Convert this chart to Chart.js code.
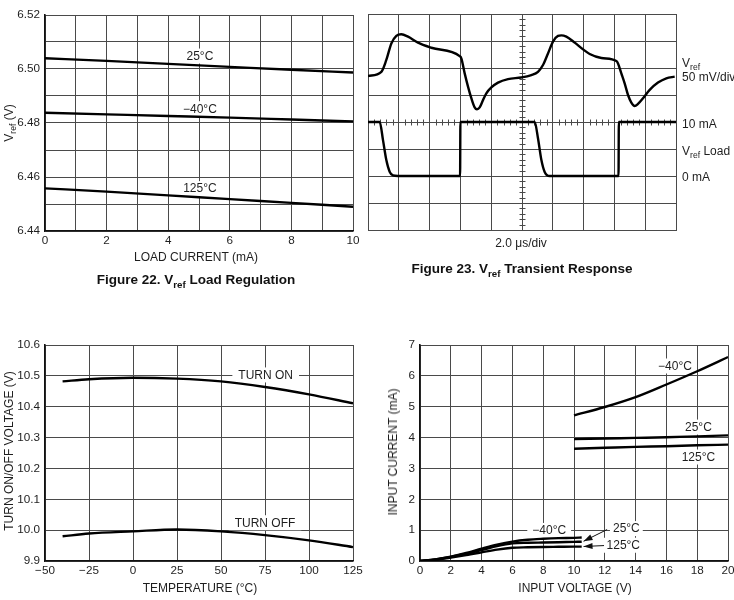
<!DOCTYPE html>
<html><head><meta charset="utf-8">
<script src="https://cdn.jsdelivr.net/npm/chart.js@4/dist/chart.umd.min.js"></script>
<style>
html,body{margin:0;padding:0;background:#fff;}
body{width:734px;height:600px;overflow:hidden;position:relative;font-family:"Liberation Sans",Arial,sans-serif;color:#1e1e1e;}
canvas{position:absolute;}
.t{position:absolute;transform:translate(-50%,-50%);white-space:nowrap;font-size:12px;line-height:1;}
.r{transform:translate(-50%,-50%) rotate(-90deg);}
.fig{font-weight:bold;font-size:13.5px;color:#111;}
sub{font-size:72%;vertical-align:-0.35em;line-height:0;}
.l{position:absolute;white-space:nowrap;font-size:12px;line-height:1;transform:translateY(-50%);}
</style></head><body>
<canvas id="c1" width="367" height="300" style="left:0;top:0"></canvas>
<canvas id="c2" width="367" height="300" style="left:367px;top:0"></canvas>
<canvas id="c3" width="367" height="270" style="left:0;top:330px"></canvas>
<canvas id="c4" width="380" height="270" style="left:367px;top:330px"></canvas>

<div class="t r" style="left:9px;top:123px">V<sub>ref</sub> (V)</div>
<div class="t" style="left:196px;top:257px">LOAD CURRENT (mA)</div>
<div class="t fig" style="left:196px;top:280px">Figure 22. V<sub>ref</sub> Load Regulation</div>

<div class="t" style="left:521px;top:243px">2.0 μs/div</div>
<div class="t fig" style="left:522px;top:269px">Figure 23. V<sub>ref</sub> Transient Response</div>
<div class="l" style="left:682px;top:63px">V<sub>ref</sub></div>
<div class="l" style="left:682px;top:77px">50 mV/div</div>
<div class="l" style="left:682px;top:124px">10 mA</div>
<div class="l" style="left:682px;top:151px">V<sub>ref</sub> Load</div>
<div class="l" style="left:682px;top:177px">0 mA</div>

<div class="t r" style="left:9px;top:451px">TURN ON/OFF VOLTAGE (V)</div>
<div class="t" style="left:200px;top:588px">TEMPERATURE (°C)</div>

<div class="t r" style="left:393px;top:452px">INPUT CURRENT (mA)</div>
<div class="t" style="left:575px;top:588px">INPUT VOLTAGE (V)</div>

<script>
// ---------- Figure 22: Vref load regulation ----------
const loadCurrent = [0, 2, 4, 6, 8, 10];
const vref25  = [6.5040, 6.5030, 6.5019, 6.5008, 6.4997, 6.4987];
const vrefM40 = [6.4838, 6.4832, 6.4826, 6.4820, 6.4813, 6.4806];
const vref125 = [6.4558, 6.4546, 6.4532, 6.4518, 6.4504, 6.4490];
const fig22XTicks = ['0', '2', '4', '6', '8', '10'];
const fig22YTicks = ['6.44', '6.46', '6.48', '6.50', '6.52'];

// ---------- Figure 23: transient response (scope divisions) ----------
const vrefTime = [0,0.433,0.595,0.758,0.920,1.082,1.299,1.623,2.056,2.976,3.030,3.139,3.247,3.355,3.463,3.539,3.626,3.734,3.842,4.004,4.221,4.545,4.978,5.303,5.519,5.682,5.844,6.006,6.169,6.277,6.439,6.710,6.981,7.197,7.576,8.063,8.117,8.225,8.333,8.442,8.550,8.658,8.766,8.929,9.145,9.416,9.686,9.957];
const vrefTrace = [5.70,5.86,6.30,6.91,7.19,7.25,7.16,6.94,6.75,6.44,6.36,5.80,5.31,4.88,4.54,4.47,4.54,4.81,5.06,5.28,5.46,5.59,5.65,5.74,5.86,6.11,6.54,6.98,7.19,7.21,7.16,6.94,6.69,6.52,6.37,6.26,6.17,5.80,5.43,5.00,4.72,4.59,4.67,4.88,5.19,5.46,5.62,5.68];
const loadTime  = [0,0.379,0.487,0.595,0.703,0.812,0.974,2.990,3.000,5.411,5.519,5.628,5.736,5.898,8.134,8.144,10];
const loadTrace = [4,4,3.33,2.59,2.16,2.02,2,2,4,4,3.4,2.6,2.15,2,2,4,4];

// ---------- Figure 24: turn on/off voltage vs temperature ----------
const temperature = [-40, -25, 0, 25, 50, 75, 100, 125];
const turnOn  = [10.482, 10.489, 10.494, 10.491, 10.482, 10.464, 10.440, 10.411];
const turnOff = [9.980, 9.989, 9.996, 10.002, 9.996, 9.984, 9.967, 9.945];
const fig24XTicks = ['−50', '−25', '0', '25', '50', '75', '100', '125'];
const fig24YTicks = ['9.9', '10.0', '10.1', '10.2', '10.3', '10.4', '10.5', '10.6'];

// ---------- Figure 25: input current vs input voltage ----------
const vinLow   = [0, 1, 2, 3, 4, 5, 6, 7, 8, 9, 10, 10.5];
const iLowM40  = [0, 0.05, 0.14, 0.26, 0.40, 0.53, 0.63, 0.69, 0.72, 0.74, 0.75, 0.76];
const iLow25   = [0, 0.05, 0.13, 0.24, 0.35, 0.48, 0.57, 0.59, 0.60, 0.61, 0.62, 0.625];
const iLow125  = [0, 0.04, 0.11, 0.19, 0.28, 0.37, 0.43, 0.445, 0.455, 0.46, 0.465, 0.466];
const vinHigh  = [10, 12, 14, 16, 18, 20];
const iHighM40 = [4.72, 4.99, 5.31, 5.72, 6.15, 6.61];
const iHigh25  = [3.95, 3.97, 3.99, 4.01, 4.04, 4.07];
const iHigh125 = [3.64, 3.67, 3.70, 3.72, 3.75, 3.77];
const fig25XTicks = ['0','2','4','6','8','10','12','14','16','18','20'];
const fig25YTicks = ['0','1','2','3','4','5','6','7'];

// ---------- rendering ----------
Chart.defaults.font.family = '"Liberation Sans", Arial, sans-serif';
Chart.defaults.font.size = 11.7;
Chart.defaults.color = '#1e1e1e';
Chart.defaults.animation = false;
Chart.defaults.responsive = false;
Chart.defaults.devicePixelRatio = 1;

const GRID = '#4a4a4a';
const AXIS = '#111';
const TAGFONT = '12px "Liberation Sans", Arial, sans-serif';

function series(xs, ys, extra) {
  return Object.assign({
    data: xs.map((v, i) => ({x: v, y: ys[i]})),
    borderColor: '#000', borderWidth: 2.4, pointRadius: 0, fill: false,
    cubicInterpolationMode: 'monotone'
  }, extra || {});
}

const tagPlugin = {
  id: 'tags',
  beforeDatasetsDraw(chart, args, opts) {
    const {ctx, scales: {x, y}} = chart;
    ctx.save();
    ctx.font = TAGFONT;
    (opts.items || []).forEach(it => {
      const w = ctx.measureText(it.text).width;
      const px = x.getPixelForValue(it.x), py = y.getPixelForValue(it.y);
      const pad = it.pad == null ? 5 : it.pad;
      ctx.fillStyle = '#fff';
      ctx.fillRect(px - w / 2 - pad, py - 7.5, w + 2 * pad, 15);
    });
    ctx.restore();
  },
  afterDatasetsDraw(chart, args, opts) {
    const {ctx, scales: {x, y}} = chart;
    ctx.save();
    ctx.font = TAGFONT;
    ctx.fillStyle = '#1e1e1e';
    ctx.textAlign = 'center';
    ctx.textBaseline = 'middle';
    (opts.items || []).forEach(it => {
      ctx.fillText(it.text, x.getPixelForValue(it.x), y.getPixelForValue(it.y) + 0.5);
    });
    (opts.arrows || []).forEach(a => {
      const x0 = x.getPixelForValue(a.from[0]), y0 = y.getPixelForValue(a.from[1]);
      const x1 = x.getPixelForValue(a.to[0]), y1 = y.getPixelForValue(a.to[1]);
      const ang = Math.atan2(y1 - y0, x1 - x0);
      ctx.strokeStyle = '#111'; ctx.lineWidth = 1;
      ctx.beginPath(); ctx.moveTo(x0, y0); ctx.lineTo(x1, y1); ctx.stroke();
      ctx.fillStyle = '#111';
      ctx.beginPath();
      ctx.moveTo(x1, y1);
      ctx.lineTo(x1 - 9 * Math.cos(ang) + 3 * Math.sin(ang), y1 - 9 * Math.sin(ang) - 3 * Math.cos(ang));
      ctx.lineTo(x1 - 9 * Math.cos(ang) - 3 * Math.sin(ang), y1 - 9 * Math.sin(ang) + 3 * Math.cos(ang));
      ctx.closePath(); ctx.fill();
    });
    ctx.restore();
  }
};

const scopePlugin = {
  id: 'scope',
  beforeDatasetsDraw(chart, args, opts) {
    if (!opts.on) return;
    const {ctx, scales: {x, y}} = chart;
    const cx = Math.round(x.getPixelForValue(5)) + 0.5;
    const cy = Math.round(y.getPixelForValue(4)) + 0.5;
    ctx.save();
    ctx.strokeStyle = GRID; ctx.lineWidth = 1;
    ctx.beginPath();
    for (let i = 1; i < 50; i++) {
      if (i % 5 === 0) continue;
      const px = Math.round(x.getPixelForValue(i * 0.2)) + 0.5;
      ctx.moveTo(px, cy - 3); ctx.lineTo(px, cy + 3);
    }
    for (let i = 1; i < 40; i++) {
      if (i % 5 === 0) continue;
      const py = Math.round(y.getPixelForValue(i * 0.2)) + 0.5;
      ctx.moveTo(cx - 3, py); ctx.lineTo(cx + 3, py);
    }
    ctx.stroke();
    ctx.restore();
  }
};

function xAxis(min, max, step, labels, height, show) {
  return {
    type: 'linear', min, max,
    ticks: {display: show, stepSize: step, autoSkip: false, maxRotation: 0, padding: 3,
      callback: v => { const i = labels.findIndex(l => parseFloat(l.replace('−', '-')) === Math.round(v * 1000) / 1000); return i >= 0 ? labels[i] : ''; }},
    grid: {color: GRID, lineWidth: 1, drawTicks: false},
    border: {color: show ? AXIS : GRID, width: show ? 1.6 : 1},
    afterFit: s => { s.height = height; }
  };
}
function yAxis(min, max, step, labels, width, show) {
  return {
    type: 'linear', min, max,
    ticks: {display: show, stepSize: step, autoSkip: false, padding: 5,
      callback: v => { const i = labels.findIndex(l => Math.abs(parseFloat(l) - v) < step / 10); return i >= 0 ? labels[i] : ''; }},
    grid: {color: GRID, lineWidth: 1, drawTicks: false},
    border: {color: show ? AXIS : GRID, width: show ? 1.6 : 1},
    afterFit: s => { s.width = width; }
  };
}
function baseOpts(pad, scales, tags) {
  return {
    layout: {padding: pad},
    plugins: {legend: {display: false}, tooltip: {enabled: false}, tags: tags || {}, scope: {}},
    scales
  };
}

// Figure 22
new Chart(document.getElementById('c1'), {
  type: 'line',
  data: {datasets: [series(loadCurrent, vref25), series(loadCurrent, vrefM40), series(loadCurrent, vref125)]},
  options: baseOpts({left: 0, top: 15, right: 14, bottom: 0}, {
    x: xAxis(0, 10, 1, fig22XTicks, 69, true),
    y: yAxis(6.44, 6.52, 0.01, fig22YTicks, 45, true)
  }, {items: [
    {text: '25°C', x: 5.03, y: 6.5048},
    {text: '−40°C', x: 5.03, y: 6.4853},
    {text: '125°C', x: 5.03, y: 6.4557}
  ]}),
  plugins: [tagPlugin]
});

// Figure 23
const opt23 = baseOpts({left: 1, top: 14, right: 58, bottom: 70}, {
  x: xAxis(0, 10, 1, [], 0, false),
  y: yAxis(0, 8, 1, [], 0, false)
});
opt23.plugins.scope = {on: true};
opt23.plugins.tags = {};
new Chart(document.getElementById('c2'), {
  type: 'line',
  data: {datasets: [series(vrefTime, vrefTrace, {borderWidth: 2.4}), series(loadTime, loadTrace, {borderWidth: 2.4})]},
  options: opt23,
  plugins: [scopePlugin]
});

// Figure 24
new Chart(document.getElementById('c3'), {
  type: 'line',
  data: {datasets: [series(temperature, turnOn), series(temperature, turnOff)]},
  options: baseOpts({left: 0, top: 15, right: 14, bottom: 0}, {
    x: xAxis(-50, 125, 25, fig24XTicks, 39, true),
    y: yAxis(9.9, 10.6, 0.1, fig24YTicks, 45, true)
  }, {items: [
    {text: 'TURN ON', x: 75.4, y: 10.503, pad: 6},
    {text: 'TURN OFF', x: 75, y: 10.024, pad: 6}
  ]}),
  plugins: [tagPlugin]
});

// Figure 25
new Chart(document.getElementById('c4'), {
  type: 'line',
  data: {datasets: [
    series(vinLow, iLowM40), series(vinLow, iLow25), series(vinLow, iLow125),
    series(vinHigh, iHighM40), series(vinHigh, iHigh25), series(vinHigh, iHigh125)
  ]},
  options: baseOpts({left: 0, top: 15, right: 19, bottom: 0}, {
    x: xAxis(0, 20, 2, fig25XTicks, 39, true),
    y: yAxis(0, 7, 1, fig25YTicks, 53, true)
  }, {
    items: [
      {text: '−40°C', x: 16.56, y: 6.32},
      {text: '25°C', x: 18.08, y: 4.34},
      {text: '125°C', x: 18.08, y: 3.37},
      {text: '−40°C', x: 8.39, y: 0.99},
      {text: '25°C', x: 13.4, y: 1.05, pad: 3},
      {text: '125°C', x: 13.2, y: 0.51, pad: 3}
    ],
    arrows: [
      {from: [12.15, 1.02], to: [10.62, 0.64]},
      {from: [11.95, 0.5], to: [10.62, 0.47]}
    ]
  }),
  plugins: [tagPlugin]
});
</script>
</body></html>
